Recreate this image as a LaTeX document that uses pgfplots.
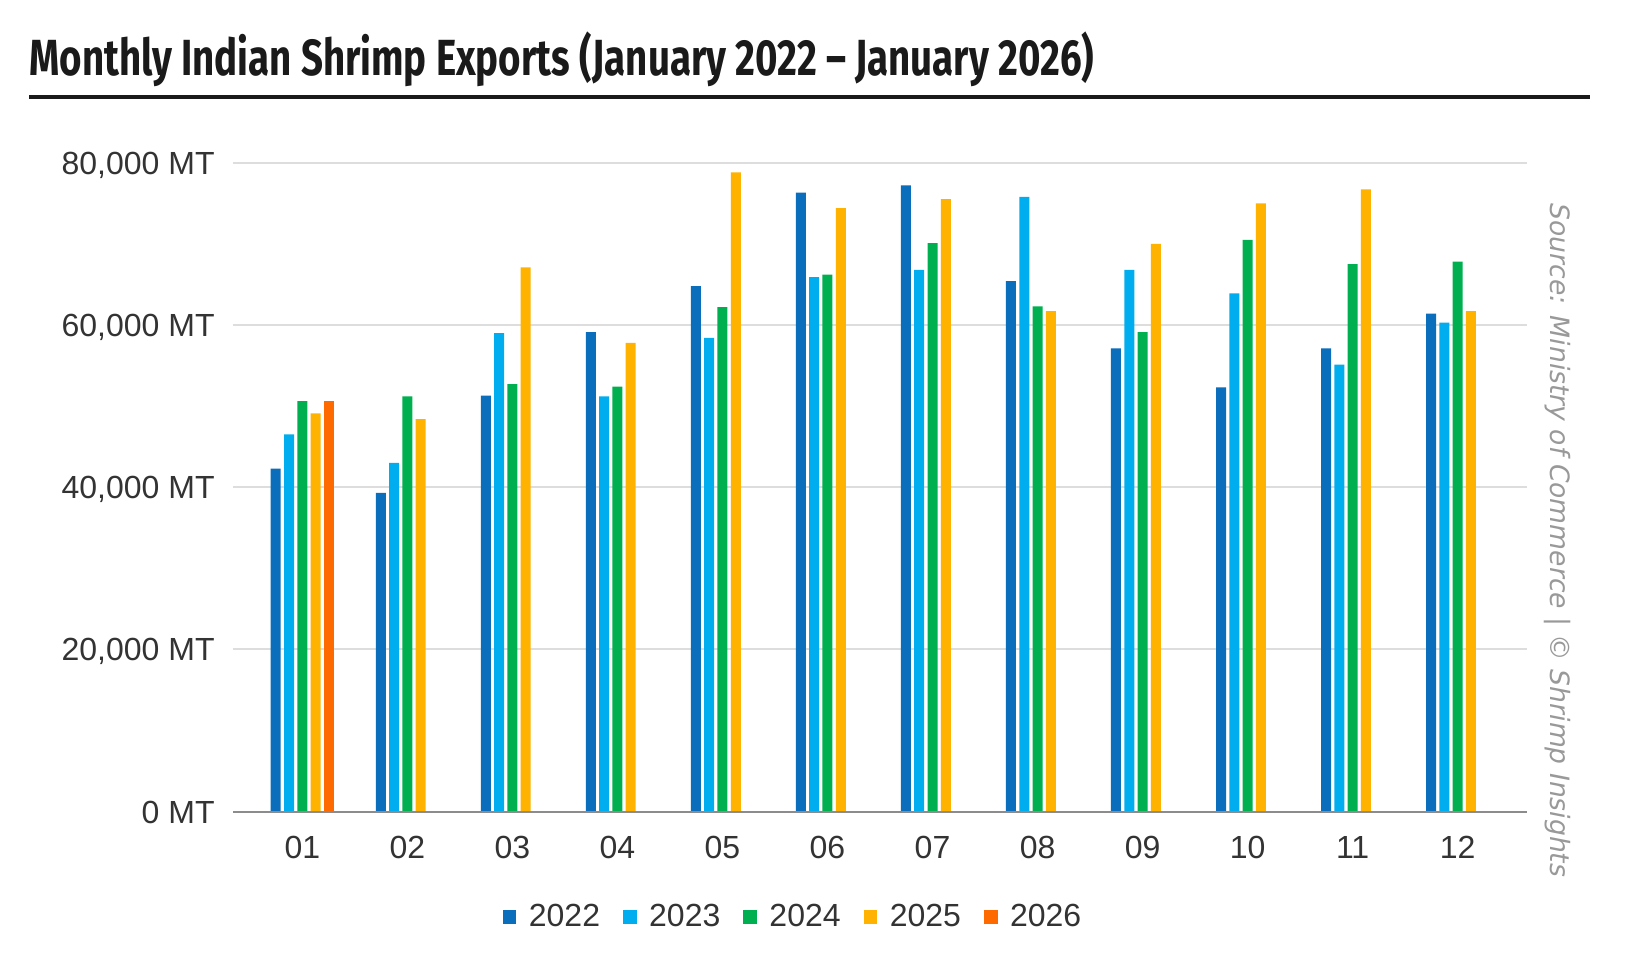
\documentclass[border=0pt]{standalone}
\usepackage{pgfplots}
\pgfplotsset{compat=1.18}
\usepackage{graphicx}
\usepackage{fontspec}
\setmainfont{Liberation Sans}
\newfontfamily\titlefont{Fira Sans}
\newfontfamily\srcfont{DejaVu Sans}
\definecolor{c22}{HTML}{0A6EBD}
\definecolor{c23}{HTML}{00AEEF}
\definecolor{c24}{HTML}{00B050}
\definecolor{c25}{HTML}{FFB300}
\definecolor{c26}{HTML}{FF6A00}
\definecolor{textgray}{HTML}{333333}
\definecolor{srcgray}{HTML}{999999}
\definecolor{gridgray}{HTML}{DDDDDD}
\definecolor{axisgray}{HTML}{8C8C8C}
\definecolor{titleblack}{HTML}{1A1A1A}

\pgfplotstableread{
m v22 v23 v24 v25
0 42300 46500 50600 49100
1 39300 43000 51200 48400
2 51300 59000 52700 67100
3 59100 51200 52400 57800
4 64800 58400 62200 78800
5 76300 65900 66200 74400
6 77200 66800 70100 75500
7 65400 75800 62300 61700
8 57100 66800 59100 70000
9 52300 63900 70500 75000
10 57100 55100 67500 76700
11 61400 60300 67800 61700
}\datatable

\begin{document}
\begin{tikzpicture}
\fill[white] (0,0) rectangle (820pt,479pt);
\useasboundingbox (0,0) rectangle (820pt,479pt);

\node[anchor=base west, inner sep=0pt, text=titleblack] at (14.5pt,441.3pt)
  {\resizebox{532.5pt}{\height}{\titlefont\bfseries\fontsize{25.4}{30}\selectfont Monthly Indian Shrimp Exports (January 2022 – January 2026)}};
\draw[titleblack, line width=2pt] (14.5pt,430.3pt) -- (795pt,430.3pt);

\begin{axis}[
  name=ax,
  at={(116.5pt,73.15pt)}, anchor=south west,
  scale only axis, width=647pt, height=324.5pt,
  xmin=-0.66, xmax=11.66, ymin=0, ymax=80000,
  ybar=1.65pt, bar width=5pt,
  axis line style={draw=none},
  ymajorgrids, grid style={gridgray, line width=1pt},
  scaled y ticks=false,
  major tick length=0pt,
  xtick={0,...,11},
  xticklabels={01,02,03,04,05,06,07,08,09,10,11,12},
  ytick={0,20000,40000,60000,80000},
  yticklabels={{0 MT},{20,000 MT},{40,000 MT},{60,000 MT},{80,000 MT}},
  ticklabel style={font=\fontsize{16}{19}\selectfont, text=textgray},
  xticklabel style={inner sep=0pt, anchor=north, yshift=-12pt},
  yticklabel style={inner sep=0pt, anchor=base east, xshift=-9pt, yshift=-5.7pt},
  /pgf/number format/assume math mode=true,
  legend image code/.code={\fill[#1] (0pt,-3.4pt) rectangle (6.8pt,3.4pt);},
  legend style={at={(0.432,-0.1622)}, anchor=center, draw=none, fill=none,
    font=\fontsize{16}{19}\selectfont, text=textgray,
    nodes={inner xsep=0pt},
    column sep=0pt,
    /tikz/every odd column/.append style={column sep=6.25pt},
    /tikz/every even column/.append style={column sep=11.5pt}},
  legend columns=-1,
]
\addplot[fill=c22, draw=none] table[x=m, y=v22] {\datatable};
\addlegendentry{2022}
\addplot[fill=c23, draw=none] table[x=m, y=v23] {\datatable};
\addlegendentry{2023}
\addplot[fill=c24, draw=none] table[x=m, y=v24] {\datatable};
\addlegendentry{2024}
\addplot[fill=c25, draw=none] table[x=m, y=v25] {\datatable};
\addlegendentry{2025}
\addplot[fill=c26, draw=none] coordinates {(0,50600)};
\addlegendentry{2026}
\end{axis}
\draw[axisgray, line width=1pt] (ax.south west) -- (ax.south east);

\node[rotate=-90, anchor=center, inner sep=0pt, text=srcgray] at (779pt,208.75pt)
  {\srcfont\itshape\fontsize{13.3}{16}\selectfont Source: Ministry of Commerce | © Shrimp Insights};
\end{tikzpicture}
\end{document}
